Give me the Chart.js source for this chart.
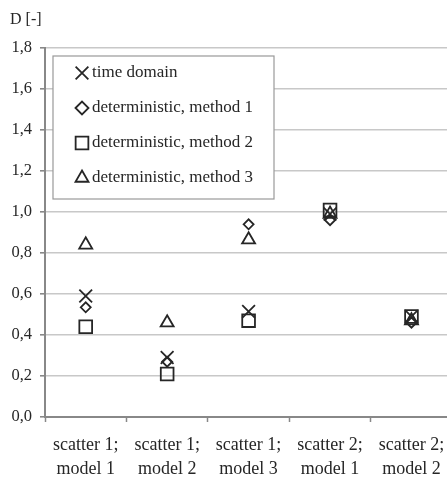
<!DOCTYPE html>
<html lang="en">
<head>
  <meta charset="UTF-8">
  <title>D [-]</title>
  <script src="https://cdn.jsdelivr.net/npm/chart.js"></script>
  <style>
    body { margin: 0; background: #fff; overflow: hidden; }
  </style>
</head>
<body>
<canvas id="dChart" width="463" height="477"></canvas>

<script>
  // categories (two-line labels)
  const categories = [
    ['scatter 1;', 'model 1'],
    ['scatter 1;', 'model 2'],
    ['scatter 1;', 'model 3'],
    ['scatter 2;', 'model 1'],
    ['scatter 2;', 'model 2']
  ];

  // values
  const timeDomain = [0.59, 0.29, 0.515, 0.99, 0.49];
  const method1 = [0.535, 0.27, 0.94, 0.96, 0.46];
  const method2 = [0.44, 0.21, 0.47, 1.01, 0.49];
  const method3 = [0.84, 0.46, 0.865, 0.99, 0.47];

  const seriesNames = ['time domain', 'deterministic, method 1', 'deterministic, method 2', 'deterministic, method 3'];
  const yTicks = [0, 0.2, 0.4, 0.6, 0.8, 1.0, 1.2, 1.4, 1.6, 1.8];

  const serif = "'Liberation Serif', 'DejaVu Serif', serif";
  const ink = '#262626';

  function makeSet(label, data, style, radius, legendRadius) {
    return {
      label: label,
      data: data,
      showLine: false,
      pointStyle: style,
      pointRadius: radius,
      pointHoverRadius: radius,
      pointBorderWidth: 1.8,
      borderColor: ink,
      backgroundColor: 'rgba(0,0,0,0)',
      legendRadius: legendRadius
    };
  }

  // legend box drawn inside the plot, like the original
  const boxLegend = {
    id: 'boxLegend',
    afterDraw(chart) {
      const ctx = chart.ctx;
      ctx.save();
      // axis title
      ctx.fillStyle = ink;
      ctx.font = '16px ' + serif;
      ctx.textBaseline = 'middle';
      ctx.textAlign = 'left';
      ctx.fillText('D [-]', 10, 20);

      const area = chart.chartArea;
      const bx = area.left + 8, by = area.top + 8, bw = 221, bh = 143;
      ctx.fillStyle = '#fff';
      ctx.fillRect(bx, by, bw, bh);
      ctx.strokeStyle = '#999';
      ctx.lineWidth = 1.2;
      ctx.strokeRect(bx, by, bw, bh);

      ctx.font = '17px ' + serif;
      chart.data.datasets.forEach((ds, i) => {
        const cy = by + 17 + i * 35;
        const cx = bx + 29;
        ctx.strokeStyle = ink;
        ctx.fillStyle = 'rgba(0,0,0,0)';
        ctx.lineWidth = 1.8;
        Chart.helpers.drawPoint(ctx, {
          pointStyle: ds.pointStyle,
          radius: ds.legendRadius,
          borderWidth: 1.8,
          rotation: 0
        }, cx, cy);
        ctx.fillStyle = ink;
        ctx.fillText(ds.label, bx + 39, cy);
      });
      ctx.restore();
    }
  };

  const config = {
    type: 'line',
    data: {
      labels: categories,
      datasets: [
        makeSet(seriesNames[0], timeDomain, 'crossRot', 9, 9),
        makeSet(seriesNames[1], method1, 'rectRot', 5, 6.5),
        makeSet(seriesNames[2], method2, 'rect', 9, 9),
        makeSet(seriesNames[3], method3, 'triangle', 7.5, 7.5)
      ]
    },
    options: {
      responsive: false,
      animation: false,
      layout: { padding: { top: 48, right: 0, bottom: 0, left: 0 } },
      plugins: {
        legend: { display: false },
        tooltip: { enabled: false },
        title: { display: false }
      },
      scales: {
        x: {
          offset: true,
          grid: {
            offset: true,
            drawOnChartArea: false,
            drawTicks: true,
            tickLength: 5,
            tickColor: '#888',
            tickWidth: 1.5
          },
          border: { color: '#888', width: 2 },
          ticks: {
            color: ink,
            font: { family: serif, size: 18, lineHeight: 1.3 },
            padding: 12,
            maxRotation: 0,
            autoSkip: false
          },
          afterFit(scale) { scale.height = 60; }
        },
        y: {
          min: 0,
          max: 1.8,
          afterBuildTicks(scale) {
            scale.ticks = yTicks.map(v => ({ value: v }));
          },
          grid: {
            color: '#c8c8c8',
            lineWidth: 1.6,
            tickLength: 5,
            tickColor: '#888'
          },
          border: { color: '#888', width: 2 },
          ticks: {
            color: ink,
            font: { family: serif, size: 16.5 },
            padding: 8,
            callback: v => v.toFixed(1).replace('.', ',')
          },
          afterFit(scale) { scale.width = 45; }
        }
      }
    },
    plugins: [boxLegend]
  };

  new Chart(document.getElementById('dChart'), config);
</script>
</body>
</html>
